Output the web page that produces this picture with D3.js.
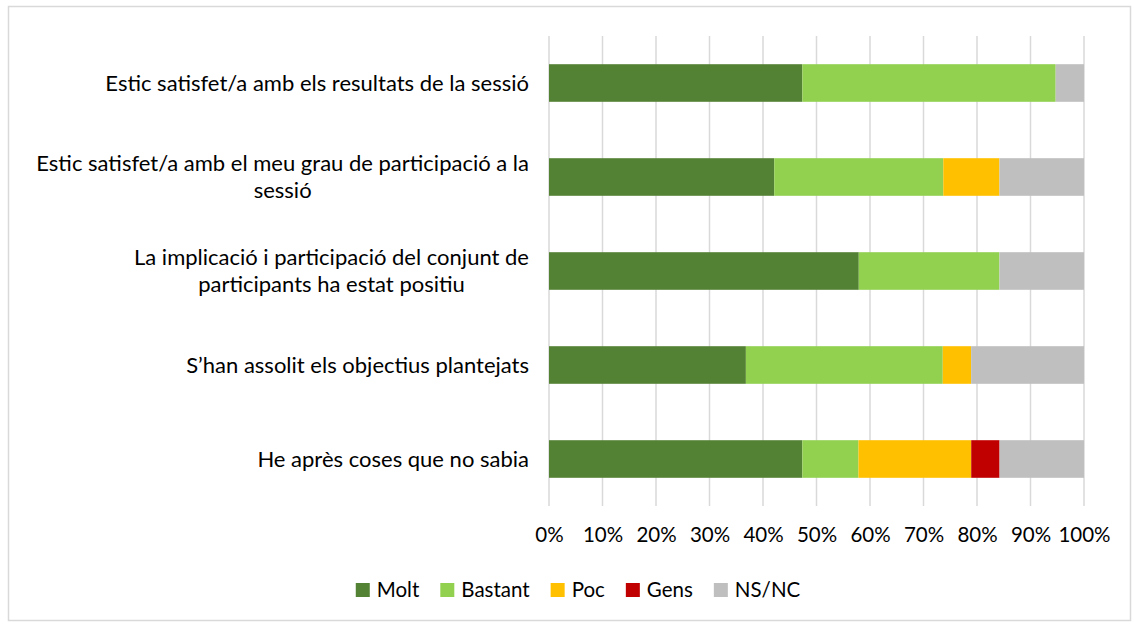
<!DOCTYPE html>
<html>
<head>
<meta charset="utf-8">
<script src="https://cdn.jsdelivr.net/npm/d3@7"></script>
<style>
  body { margin: 0; background: #fff; }
  svg { display: block; font-family: Lato, "Open Sans", sans-serif; }
</style>
</head>
<body>
<svg id="chart" width="1134" height="624"></svg>
<script>
// survey items, one array of lines per item
const categories = [
  ["Estic satisfet/a amb els resultats de la sessió"],
  ["Estic satisfet/a amb el meu grau de participació a la", "sessió"],
  ["La implicació i participació del conjunt de", "participants ha estat positiu"],
  ["S’han assolit els objectius plantejats"],
  ["He après coses que no sabia"]
]
const seriesNames = ["Molt", "Bastant", "Poc", "Gens", "NS/NC"]
const seriesColors = ["#548235", "#92D050", "#FFC000", "#C00000", "#BFBFBF"]

// percentages of answers
const molt = [47.4, 42.1, 57.9, 36.8, 47.4]
const bastant = [47.4, 31.6, 26.3, 36.8, 10.5]
const poc = [0, 10.5, 0, 5.3, 21.1]
const gens = [0, 0, 0, 0, 5.3]
const nsnc = [5.3, 15.8, 15.8, 21.1, 15.8]

const tickValues = [0, 0.1, 0.2, 0.3, 0.4, 0.5, 0.6, 0.7, 0.8, 0.9, 1]

const rows = categories.map((c, i) => ({
  key: i,
  Molt: molt[i],
  Bastant: bastant[i],
  Poc: poc[i],
  Gens: gens[i],
  "NS/NC": nsnc[i]
}))

const svg = d3.select("#chart")
const width = 1134
const height = 624
const margin = { top: 36, right: 50, bottom: 118, left: 549 }

// outer chart frame
svg.append("rect")
  .attr("x", 8.5).attr("y", 6.5)
  .attr("width", width - 12).attr("height", height - 10)
  .attr("fill", "#fff")
  .attr("stroke", "#d9d9d9")
  .attr("stroke-width", 1.5)

const x = d3.scaleLinear()
  .domain([0, 1])
  .range([margin.left, width - margin.right])

const y = d3.scaleBand()
  .domain(rows.map((d) => d.key))
  .range([margin.top, height - margin.bottom])
  .paddingInner(0.6)
  .paddingOuter(0.3)

const stack = d3.stack()
  .keys(seriesNames)
  .offset(d3.stackOffsetExpand)
const stacked = stack(rows)

const color = d3.scaleOrdinal().domain(seriesNames).range(seriesColors)

// gridlines
svg.append("g")
  .selectAll("line")
  .data(tickValues)
  .join("line")
  .attr("x1", (d) => x(d)).attr("x2", (d) => x(d))
  .attr("y1", margin.top).attr("y2", height - margin.bottom)
  .attr("stroke", "#d9d9d9")
  .attr("stroke-width", 1.5)

// bars
svg.append("g")
  .selectAll("g")
  .data(stacked)
  .join("g")
  .attr("fill", (d) => color(d.key))
  .selectAll("rect")
  .data((d) => d)
  .join("rect")
  .attr("x", (d) => x(d[0]))
  .attr("y", (d) => y(d.data.key))
  .attr("width", (d) => x(d[1]) - x(d[0]))
  .attr("height", y.bandwidth())

// x axis labels
const xAxis = d3.axisBottom(x)
  .tickValues(tickValues)
  .tickFormat(d3.format(".0%"))
  .tickSize(0)
  .tickPadding(0)

const axisG = svg.append("g")
  .attr("transform", `translate(0,${height - margin.bottom + 21})`)
  .call(xAxis)
axisG.select(".domain").remove()
axisG.selectAll("text")
  .attr("font-family", "Lato, sans-serif")
  .attr("font-size", 20.5)
  .attr("fill", "#000")

// category labels: block right-aligned, lines centred inside it
const labelRight = 529
const lineH = 26.5
const labelG = svg.append("g")
  .attr("font-size", 22)
  .attr("fill", "#000")

categories.forEach((lines, i) => {
  const cy = y(i) + y.bandwidth() / 2
  const t = labelG.append("text").attr("text-anchor", "middle")
  const spans = lines.map((line, j) =>
    t.append("tspan")
      .attr("y", cy + (j - (lines.length - 1) / 2) * lineH)
      .attr("dy", "0.35em")
      .text(line)
  )
  const maxW = d3.max(spans, (s) => s.node().getComputedTextLength())
  spans.forEach((s) => s.attr("x", labelRight - maxW / 2))
})

// legend
const legendY = 590
const legend = svg.append("g").attr("font-size", 20.5)
const items = legend.selectAll("g")
  .data(seriesNames)
  .join("g")
items.append("rect")
  .attr("width", 14).attr("height", 14)
  .attr("y", legendY - 7)
  .attr("fill", (d) => color(d))
items.append("text")
  .attr("x", 21)
  .attr("y", legendY)
  .attr("dy", "0.35em")
  .text((d) => d)

let offset = 0
const positions = []
items.each(function () {
  positions.push(offset)
  const w = d3.select(this).select("text").node().getComputedTextLength()
  offset += 21 + w + 21
})
const total = offset - 21
const start = 578 - total / 2
items.attr("transform", (d, i) => `translate(${start + positions[i]},0)`)
</script>
</body>
</html>
